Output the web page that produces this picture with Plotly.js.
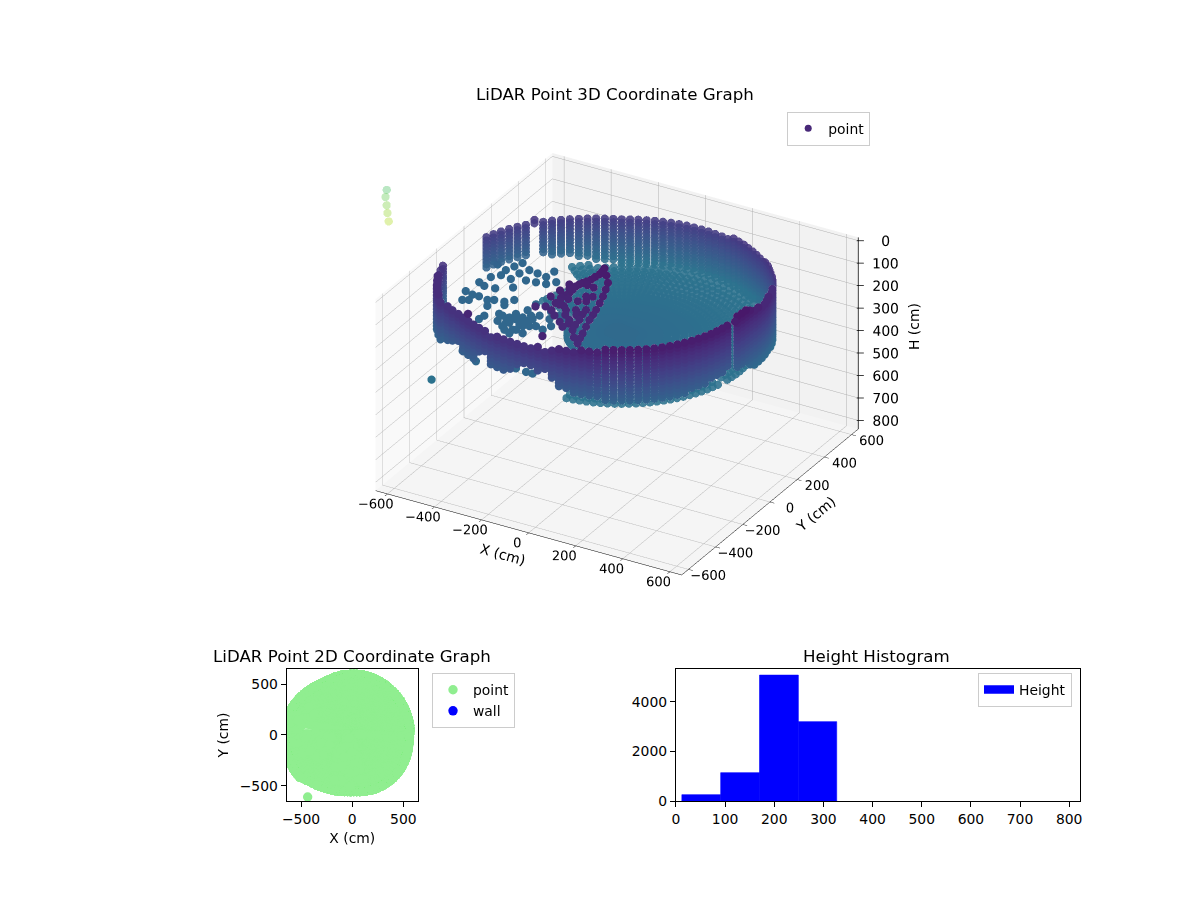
<!DOCTYPE html>
<html>
<head>
<meta charset="utf-8">
<script src="https://cdn.plot.ly/plotly-3.0.1.min.js"></script>
<style>body { margin: 0; background: #fff; }</style>
</head>
<body>
<div id="chart"></div>
<script>
// wall columns, one per 3 degrees of the scan, read from the 3D view
var wallAngle = [0,3,6,9,12,15,18,21,24,27,30,33,36,39,42,45,48,51,54,57,60,63,66,69,72,75,78,81,84,87,90,93,96,99,102,105,108,111,114,117,120,123,126,129,132,135,138,141,144,147,150,153,156,159,162,165,168,180,183,186,189,192,195,198,201,204,207,210,213,216,219,222,225,228,231,234,237,240,243,246,249,252,255,258,261,264,267,270,273,276,279,282,285,288,291,294,297,300,303,306,309,312,315,318,321,324,327,330,333,336,339,342,345,351,354,357];
var wallRadius = [545,548,550,552,553,553,552,553,555,555,555,556,558,560,560,562,565,565,568,570,572,574,575,578,580,582,583,585,585,586,586,587,588,588,588,587,587,586,586,586,586,590,595,600,605,610,617,623,630,636,642,648,653,658,663,667,670,678,679,680,680,681,681,681,681,681,680,680,679,678,675,655,645,632,625,618,612,606,600,595,590,585,580,575,572,569,567,565,566,568,570,572,574,576,578,578,578,578,578,578,578,577,576,574,572,570,568,565,562,560,556,553,550,547,546,545];
var wallTop = [12,18,25,32,37,40,44,48,52,56,60,63,66,67,70,71,73,74,77,77,87,88,89,89,90,90,91,91,92,92,93,93,93,94,94,94,94,94,94,95,95,95,95,95,95,95,94,94,94,94,90,93,93,95,97,98,100,104,103,97,91,82,73,68,63,60,59,58,57,57,61,66,65,70,64,74,68,73,62,77,71,65,75,69,63,68,57,62,51,45,40,34,29,23,18,12,10,7,7,7,4,4,4,2,2,2,3,3,4,4,5,5,6,0,0,0];
var wallBottom = [264,270,270,276,277,278,284,285,285,291,292,293,294,294,295,296,296,297,298,298,299,300,300,301,302,302,303,303,304,304,304,305,305,305,306,306,301,301,301,301,301,290,286,286,280,274,269,264,258,253,114,252,252,246,246,245,245,268,267,266,266,265,264,263,257,262,261,260,254,254,248,236,214,198,229,228,238,189,168,215,219,214,197,170,159,164,179,153,184,222,224,226,229,234,239,245,248,250,250,250,250,250,248,245,243,240,236,231,226,221,216,212,205,225,230,230];
var wallLevels = [0,15,30,45,60,75,90,105,120,135,150,165,180,195,210,225,240,255,270,285,300];

// floor rings around the sensor
var floorRadius = [20,50,80,110,140,170,200,230,260,290,320,350,380,410,440,470,500,530,560,590,620,650];
var floorHeight = [271,271,273,276,278,280,282,285,287,290,292,294,294,297,297,299,299,303,303,303,303,303];

// ridge running from the tip near the middle towards the front left
var ridgeX = [-57,-54,-65,-84,-96,-96,-108,-91,-146,-124,1,29,50,59,85,103,-29,-18,-5,-5,40,14,27,-50,-110,-133,-165,-347,-20,556,-55,-60,-75,-90,-96,-102,-100,-135,-110,-28,15,40,55,72,94,-60,-40,-10,0,-35,-70,20,-80,-30,-5,30,5,-30,-70,-100,70];
var ridgeY = [6,-35,-79,-108,-137,-185,-226,-267,-235,-136,-69,-154,-241,-306,-401,-469,-178,-272,-343,-393,-397,-253,-324,-290,-262,-296,-315,-496,-515,-95,-15,-57,-94,-122,-160,-205,-246,-186,-160,-30,-110,-197,-273,-353,-435,-115,-220,-210,-300,-320,-270,-290,-220,-120,-170,-360,-365,-370,-340,-310,-440];
var ridgeH = [5,10,15,20,25,30,35,40,35,25,15,25,35,45,50,55,30,40,45,50,50,40,45,40,40,45,45,40,35,15,8,12,18,22,28,32,38,30,27,10,20,30,40,48,52,20,33,30,43,42,38,40,35,20,28,48,47,47,45,45,52];

// loose returns on the left of the room and the stray point near the corner
var looseX = [-678,-637,-607,-563,-509,-646,-611,-584,-543,-521,-482,-457,-623,-602,-520,-469,-371,-295,-375,-398,-452,-492,-496,-385,-367,-343,-316,-271,-252,-348,-330,-287,-394,-252,-239,-218,-434,-405,-378,-363,-396,-346,-339,-308,-337,-344,-302,-325,-374,-430,-667,-647,-599,-586,-573,-524,-485,-444,-543,-595,-620,-549,-495,-456,-417,-392,-439,-392,-343,-426,-142,-115,-188,-450];
var looseY = [62,55,40,44,82,-29,-40,-39,-48,-36,-29,1,-94,-82,-88,-51,12,-9,-43,-89,-119,-159,-191,-160,-117,-73,-57,-62,-20,-201,-158,-134,-196,-145,-106,-31,-125,-125,-125,-100,-166,-153,-117,-146,-195,-231,-206,-93,-216,-169,179,207,185,225,263,228,221,213,188,142,111,135,153,159,166,197,264,-446,-479,-433,-458,-457,-453,-620];
var looseH = [258,258,258,258,258,258,258,258,258,258,258,258,258,258,258,258,258,258,258,258,258,258,258,258,258,258,258,258,258,258,258,258,258,258,258,258,258,258,258,258,258,258,258,258,258,258,258,258,258,258,258,258,258,258,258,258,258,258,258,258,258,258,258,258,258,258,258,258,258,258,258,258,258,300];

// far column outside the axes box
var farX = [-1604,-1615,-1614,-1612,-1606];
var farY = [1083,1093,1100,1102,1101];
var farH = [640,680,720,755,790];

// position of the sensor in the room
var originX = 15;
var originY = 8;

// H axis, drawn by hand on the right edge of the box
var hTicks = [0,100,200,300,400,500,600,700,800];
var hTickLabels = ["0","100","200","300","400","500","600","700","800"];

// height histogram
var binLeft = [12,91,170,249];
var binWidth = [79,79,79,78];
var binCount = [256,1145,5085,3206];

var backX = [], backY = [], backH = [];
var frontX = [], frontY = [], frontH = [];
var allX = [], allY = [];

function addPoint(x, y, h, isBack) {
    if (isBack) {
        backX.push(x); backY.push(y); backH.push(h);
    } else {
        frontX.push(x); frontY.push(y); frontH.push(h);
    }
    allX.push(x);
    allY.push(y);
}

// rings that are hidden or broken up in the 3D view, but cover the 2D panel
function topViewOnly(angle, radius) {
    if (radius > 210 && angle > 165 && angle < 276) return true;
    if (radius > 410 && angle > 140 && angle <= 165) return true;
    return radius > 510 && (angle >= 240 || angle < 15);
}

var i, j, rad, isBack;
for (i = 0; i < wallAngle.length; i++) {
    rad = wallAngle[i] * Math.PI / 180;
    for (j = 0; j < floorRadius.length; j++) {
        if (floorRadius[j] >= wallRadius[i] - 10) continue;
        if (topViewOnly(wallAngle[i], floorRadius[j])) {
            allX.push(originX + floorRadius[j] * Math.cos(rad));
            allY.push(originY + floorRadius[j] * Math.sin(rad));
            continue;
        }
        addPoint(originX + floorRadius[j] * Math.cos(rad), originY + floorRadius[j] * Math.sin(rad), floorHeight[j], true);
    }
}
for (i = 0; i < looseX.length; i++) {
    addPoint(originX + looseX[i], originY + looseY[i], looseH[i], false);
}
for (i = 0; i < wallAngle.length; i++) {
    rad = wallAngle[i] * Math.PI / 180;
    isBack = wallAngle[i] >= 30 && wallAngle[i] <= 200;
    for (j = 0; j < wallLevels.length; j++) {
        if (wallLevels[j] < wallTop[i] || wallLevels[j] > wallBottom[i]) continue;
        addPoint(originX + wallRadius[i] * Math.cos(rad), originY + wallRadius[i] * Math.sin(rad), wallLevels[j], isBack);
    }
}
for (i = 0; i < ridgeX.length; i++) {
    addPoint(ridgeX[i], ridgeY[i], ridgeH[i], false);
}

// axis line and tick marks of the H axis
var axisX = [650, 650], axisY = [650, 650], axisH = [-15, 838];
var labelX = [], labelY = [];
for (i = 0; i < hTicks.length; i++) {
    axisX.push(null, 645, 668);
    axisY.push(null, 647, 660);
    axisH.push(null, hTicks[i], hTicks[i]);
    labelX.push(737);
    labelY.push(700);
}

var font = "'DejaVu Sans', sans-serif";
var eye = {x: 0.4394 * 2.5, y: -0.7611 * 2.5, z: 0.4772 * 2.5};

function cloudTrace(x, y, h, opacity) {
    return {
        type: "scatter3d", mode: "markers", x: x, y: y, z: h,
        scene: "scene", showlegend: false, hoverinfo: "skip",
        marker: {size: 4.8, color: h, cmin: -60, cmax: 900, colorscale: "Viridis", opacity: opacity, line: {width: 0}}
    };
}

var traces = [
    cloudTrace(backX, backY, backH, 0.88),
    cloudTrace(frontX, frontY, frontH, 1),
    {
        type: "scatter3d", mode: "markers", x: farX, y: farY, z: farH,
        scene: "scene2", showlegend: false, hoverinfo: "skip",
        marker: {size: 4.8, color: farH, cmin: -60, cmax: 900, colorscale: "Viridis", opacity: 0.4, line: {width: 0}}
    },
    {
        type: "scatter3d", mode: "lines", x: axisX, y: axisY, z: axisH,
        scene: "scene2", showlegend: false, hoverinfo: "skip",
        line: {color: "#000", width: 1.5}
    },
    {
        type: "scatter3d", mode: "text", x: labelX, y: labelY, z: hTicks, text: hTickLabels,
        scene: "scene2", showlegend: false, hoverinfo: "skip",
        textposition: "middle center", textfont: {family: font, size: 13.9, color: "#000"}
    },
    {
        type: "scatter", mode: "markers", x: [null], y: [null], xaxis: "x", yaxis: "y",
        name: "point", legend: "legend",
        marker: {size: 7, color: "#482878"}
    },
    {
        type: "scatter", mode: "markers", x: allX, y: allY, xaxis: "x", yaxis: "y",
        name: "point", legend: "legend2", hoverinfo: "skip",
        marker: {size: 9.4, color: "lightgreen"}
    },
    {
        type: "scatter", mode: "markers", x: [null], y: [null], xaxis: "x", yaxis: "y",
        name: "wall", legend: "legend2",
        marker: {size: 9.4, color: "blue"}
    },
    {
        type: "bar", x: binLeft, y: binCount, width: binWidth, offset: 0, xaxis: "x2", yaxis: "y2",
        showlegend: false, hoverinfo: "skip",
        marker: {color: "blue", line: {color: "blue", width: 0.6}}
    },
    {
        type: "scatter", mode: "lines", x: [null], y: [null], xaxis: "x2", yaxis: "y2",
        name: "Height", legend: "legend3", fill: "toself", fillcolor: "blue",
        line: {color: "blue", width: 5}
    }
];

function sceneAxis(title, range, tickvals, pane) {
    return {
        title: {text: title, font: {family: font, size: 14, color: "#000"}},
        range: range, tickmode: "array", tickvals: tickvals, tickangle: 0,
        tickfont: {family: font, size: 12.5, color: "#000"},
        ticks: "outside", ticklen: 5, tickcolor: "#000",
        showline: true, linecolor: "#000", linewidth: 1,
        gridcolor: "#b0b0b0", gridwidth: 1, zeroline: false, showspikes: false,
        showbackground: true, backgroundcolor: pane
    };
}

function hiddenAxis(range) {
    return {visible: false, range: range, showspikes: false};
}

function plainAxis(range, tickvals, domain, anchor, title) {
    var axis = {
        range: range, domain: domain, anchor: anchor, tickmode: "array", tickvals: tickvals,
        ticks: "outside", ticklen: 5, tickwidth: 1.1, tickcolor: "#000",
        tickfont: {family: font, size: 13.9, color: "#000"},
        showline: true, mirror: true, linecolor: "#000", linewidth: 1.1,
        showgrid: false, zeroline: false
    };
    if (title) {
        axis.title = {text: title, font: {family: font, size: 13.9, color: "#000"}, standoff: 7};
    }
    return axis;
}

function legendBox(x, y) {
    return {
        x: x, y: y, xanchor: "left", yanchor: "top",
        bgcolor: "rgba(255,255,255,0.8)", bordercolor: "#cccccc", borderwidth: 1,
        font: {family: font, size: 13.9, color: "#000"}, itemsizing: "trace"
    };
}

function titleNote(text, x, y) {
    return {
        text: text, x: x, y: y, xref: "paper", yref: "paper", xanchor: "center", yanchor: "middle",
        showarrow: false, font: {family: font, size: 16.67, color: "#000"}
    };
}

var zAxis = sceneAxis("", [838, -15], hTicks, "#f5f5f5");
zAxis.title = {text: ""};
zAxis.showticklabels = false;
zAxis.ticks = "";
zAxis.showline = false;

var hLabel = titleNote("H (cm)", 0.7617, 0.6367);
hLabel.textangle = -90;
hLabel.font = {family: font, size: 13.9, color: "#000"};

var layout = {
    width: 1200, height: 900,
    margin: {l: 0, r: 0, t: 0, b: 0},
    paper_bgcolor: "#fff", plot_bgcolor: "#fff",
    scene: {
        domain: {x: [0.2145, 0.8145], y: [0.216, 0.976]},
        aspectmode: "manual", aspectratio: {x: 1.033, y: 1.033, z: 0.6378},
        camera: {
            projection: {type: "orthographic"},
            up: {x: 0, y: 0, z: 1}, center: {x: 0, y: 0, z: 0},
            eye: eye
        },
        xaxis: sceneAxis("X (cm)", [-650, 650], [-600,-400,-200,0,200,400,600], "#f9f9f9"),
        yaxis: sceneAxis("Y (cm)", [-650, 650], [-600,-400,-200,0,200,400,600], "#f2f2f2"),
        zaxis: zAxis
    },
    scene2: {
        domain: {x: [0.2145, 0.8145], y: [0.216, 0.976]},
        aspectmode: "manual", aspectratio: {x: 3.099, y: 3.099, z: 1.9134},
        camera: {
            projection: {type: "orthographic"},
            up: {x: 0, y: 0, z: 1}, center: {x: 0, y: 0, z: 0},
            eye: eye
        },
        xaxis: hiddenAxis([-1950, 1950]),
        yaxis: hiddenAxis([-1950, 1950]),
        zaxis: hiddenAxis([1691, -868])
    },
    xaxis: plainAxis([-640, 643], [-500, 0, 500], [0.2389, 0.3483], "y", "X (cm)"),
    yaxis: plainAxis([-651, 648], [-500, 0, 500], [0.11, 0.2567], "x", "Y (cm)"),
    xaxis2: plainAxis([0, 822], [0,100,200,300,400,500,600,700,800], [0.5633, 0.9], "y2"),
    yaxis2: plainAxis([0, 5333], [0,2000,4000], [0.11, 0.2567], "x2"),
    legend: legendBox(0.656, 0.876),
    legend2: legendBox(0.36, 0.252),
    legend3: legendBox(0.815, 0.252),
    annotations: [
        titleNote("LiDAR Point 3D Coordinate Graph", 0.5125, 0.8945),
        titleNote("LiDAR Point 2D Coordinate Graph", 0.2933, 0.2711),
        titleNote("Height Histogram", 0.7308, 0.2711),
        hLabel
    ]
};

Plotly.newPlot("chart", traces, layout, {displayModeBar: false});
</script>
</body>
</html>
